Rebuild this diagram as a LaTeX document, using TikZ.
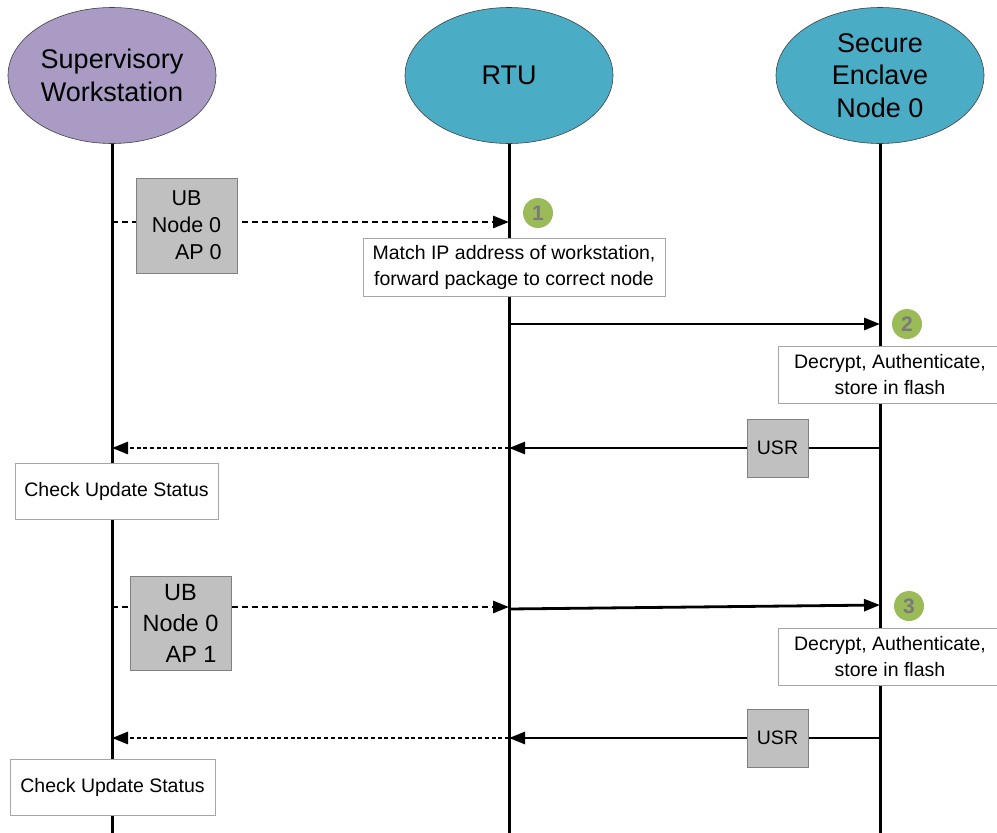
\documentclass[tikz,border=0pt]{standalone}
\usepackage{fontspec}
\setmainfont{Liberation Sans}
\usetikzlibrary{shapes.geometric,arrows.meta}
\definecolor{wsfill}{HTML}{A99BC3}
\definecolor{rtufill}{HTML}{4BACC6}
\definecolor{tagfill}{HTML}{C0C0C0}
\definecolor{stepgreen}{HTML}{9BBB59}
\definecolor{stepnum}{HTML}{7A7A7A}
\definecolor{edgegray}{HTML}{808080}
\definecolor{notegray}{HTML}{A6A6A6}

\begin{document}
\begin{tikzpicture}[x=1pt,y=-1pt,
  actor/.style={ellipse,draw=black!75,line width=0.6pt,minimum width=208pt,
    minimum height=136pt,inner sep=0pt,align=center,
    font=\fontsize{27}{32.5}\selectfont},
  life/.style={line width=3pt},
  tag/.style={draw=edgegray,fill=tagfill,line width=0.8pt,inner sep=0pt,align=center},
  note/.style={draw=notegray,fill=white,line width=0.8pt,inner sep=0pt,align=center,
    font=\fontsize{19.5}{26}\selectfont},
  badge/.style={circle,fill=stepgreen,minimum size=30pt,inner sep=0pt,
    text=stepnum,font=\fontsize{21}{21}\selectfont\bfseries},
  msg/.style={line width=2.8pt,-{Triangle[length=16pt,width=12pt]}},
  dashmsg/.style={msg,dash pattern=on 6pt off 4pt},
  dotmsg/.style={msg,dash pattern=on 4pt off 2.7pt},
]
\useasboundingbox (0,0) rectangle (997,833);

% participants
\node[actor,fill=wsfill] (ws) at (112,75.5) {Supervisory\\Workstation};
\node[actor,fill=rtufill] (rtu) at (509,75.5) {RTU};
\node[actor,fill=rtufill] (se) at (880,75.5) {Secure\\Enclave\\Node 0};

% lifelines
\coordinate (wsend) at (112,840);
\coordinate (rtuend) at (509,840);
\coordinate (seend) at (880,840);
\draw[life] (ws.south) -- (wsend);
\draw[life] (rtu.south) -- (rtuend);
\draw[life] (se.south) -- (seend);

% message anchor points on the lifelines
\coordinate (w1) at (112,222);  \coordinate (r1) at (509,222);
\coordinate (r2) at (509,324);  \coordinate (s2) at (880,324);
\coordinate (s3) at (880,448);  \coordinate (r3) at (509,448);  \coordinate (w3) at (112,448);
\coordinate (w4) at (112,607);  \coordinate (r4) at (509,607);  \coordinate (s4) at (880,605);
\coordinate (r4b) at (509,609);
\coordinate (s5) at (880,738);  \coordinate (r5) at (509,738);  \coordinate (w5) at (112,738);

% first update round
\draw[dashmsg] (w1) -- (r1);
\draw[msg] (r2) -- (s2);
\draw[msg] (s3) -- (r3);
\draw[dotmsg] (r3) -- (w3);

% second update round
\draw[dashmsg] (w4) -- (r4);
\draw[msg] (r4b) -- (s4);
\draw[msg] (s5) -- (r5);
\draw[dotmsg] (r5) -- (w5);

% message payload tags
\node[tag,minimum width=101pt,minimum height=95pt,font=\fontsize{21.5}{27}\selectfont]
  (ub1) at (186.5,225.5) {UB\\Node 0\\\hspace*{1.1em}AP 0};
\node[tag,minimum width=101pt,minimum height=94pt,font=\fontsize{23.5}{31}\selectfont]
  (ub2) at (180.5,623) {UB\\Node 0\\\hspace*{0.9em}AP 1};
\node[tag,minimum width=61pt,minimum height=58pt,font=\fontsize{19.5}{24}\selectfont]
  (usr1) at (777.5,448) {USR};
\node[tag,minimum width=61pt,minimum height=58pt,font=\fontsize{19.5}{24}\selectfont]
  (usr2) at (777.5,738) {USR};

% processing notes
\node[note,minimum width=302pt,minimum height=58pt] (match) at (514,267)
  {Match IP address of workstation,\\forward package to correct node};
\node[note,minimum width=224pt,minimum height=57pt] (dec1) at (890,374.5)
  {Decrypt, Authenticate,\\store in flash};
\node[note,minimum width=224pt,minimum height=57pt] (dec2) at (890,656.5)
  {Decrypt, Authenticate,\\store in flash};
\node[note,minimum width=203pt,minimum height=56pt] (chk1) at (116.5,491)
  {Check Update Status};
\node[note,minimum width=205pt,minimum height=56pt] (chk2) at (112.5,787)
  {Check Update Status};

% step badges
\node[badge] (b1) at (538,213) {1};
\node[badge] (b2) at (907,324) {2};
\node[badge] (b3) at (909,606) {3};
\end{tikzpicture}
\end{document}
